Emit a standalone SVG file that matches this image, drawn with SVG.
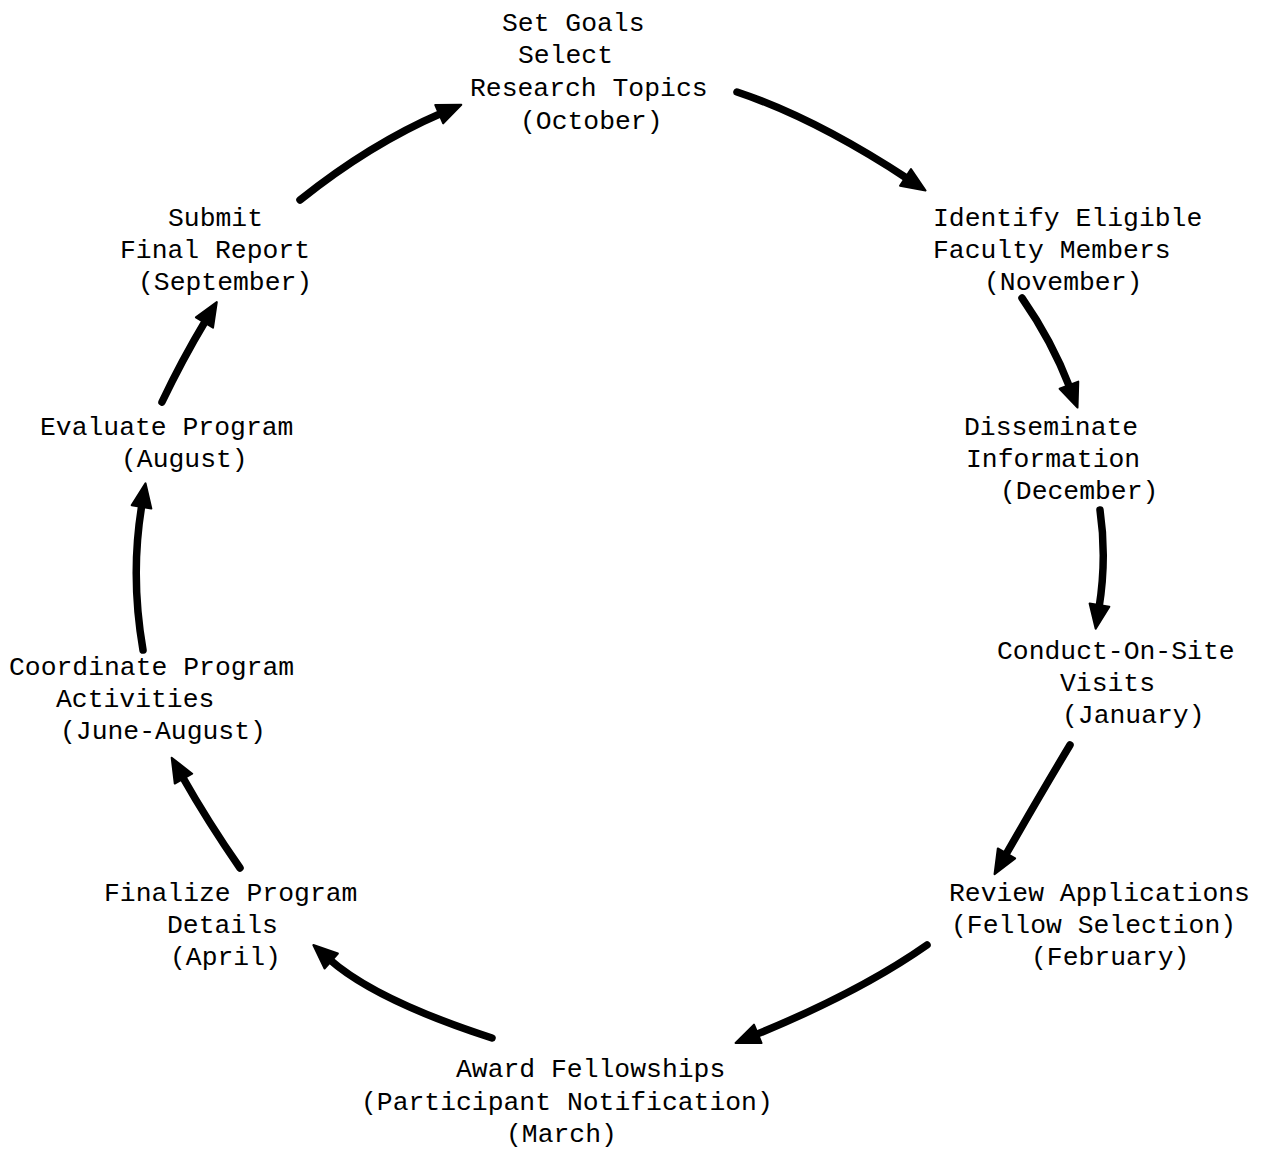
<svg xmlns="http://www.w3.org/2000/svg" width="1266" height="1149" viewBox="0 0 1266 1149">
<style>
  text { font-family: "Liberation Mono", "Courier New", monospace; font-size: 26.4px; fill: #000; }
  .arrow { fill: none; stroke: #000; stroke-width: 7.5; stroke-linecap: round; marker-end: url(#head); }
</style>
<defs>
  <marker id="head" markerUnits="userSpaceOnUse" viewBox="-4 -12 30 24" markerWidth="30" markerHeight="24" refX="1" refY="0" orient="auto" overflow="visible">
    <path d="M-2,-10 L22,0 L-2,10 Z" fill="#000" stroke="#000" stroke-width="2" stroke-linejoin="round"/>
  </marker>
</defs>
<rect width="1266" height="1149" fill="#fff"/>

<g id="node-goals">
  <text x="502" y="31">Set Goals</text>
  <text x="518" y="63">Select</text>
  <text x="470" y="96">Research Topics</text>
  <text x="520" y="129">(October)</text>
</g>
<g id="node-identify">
  <text x="933" y="226">Identify Eligible</text>
  <text x="933" y="258">Faculty Members</text>
  <text x="984" y="290">(November)</text>
</g>
<g id="node-disseminate">
  <text x="964" y="435">Disseminate</text>
  <text x="966" y="467">Information</text>
  <text x="1000" y="499">(December)</text>
</g>
<g id="node-conduct">
  <text x="997" y="659">Conduct-On-Site</text>
  <text x="1060" y="691">Visits</text>
  <text x="1062" y="723">(January)</text>
</g>
<g id="node-review">
  <text x="949" y="901">Review Applications</text>
  <text x="951" y="933">(Fellow Selection)</text>
  <text x="1031" y="965">(February)</text>
</g>
<g id="node-award">
  <text x="456" y="1077">Award Fellowships</text>
  <text x="361" y="1110">(Participant Notification)</text>
  <text x="506" y="1142">(March)</text>
</g>
<g id="node-finalize">
  <text x="104" y="901">Finalize Program</text>
  <text x="167" y="933">Details</text>
  <text x="170" y="965">(April)</text>
</g>
<g id="node-coordinate">
  <text x="9" y="675">Coordinate Program</text>
  <text x="56" y="707">Activities</text>
  <text x="60" y="739">(June-August)</text>
</g>
<g id="node-evaluate">
  <text x="40" y="435">Evaluate Program</text>
  <text x="121" y="467">(August)</text>
</g>
<g id="node-submit">
  <text x="168" y="226">Submit</text>
  <text x="120" y="258">Final Report</text>
  <text x="138" y="290">(September)</text>
</g>

<g id="connectors">
  <path class="arrow" d="M300,200 Q370,144 442,113"/>
  <path class="arrow" d="M737,92 Q815,118 908,179"/>
  <path class="arrow" d="M1022,298 Q1052,341 1070,388"/>
  <path class="arrow" d="M1100,510 Q1107,558 1099,608"/>
  <path class="arrow" d="M1070,745 Q1040,795 1005,856"/>
  <path class="arrow" d="M927,945 Q860,992 755,1035"/>
  <path class="arrow" d="M492,1038 Q375,1000 329,959"/>
  <path class="arrow" d="M240,868 Q208,822 182,776"/>
  <path class="arrow" d="M143,650 Q130,575 142,504"/>
  <path class="arrow" d="M162,402 Q182,360 206,320"/>
</g>
</svg>
